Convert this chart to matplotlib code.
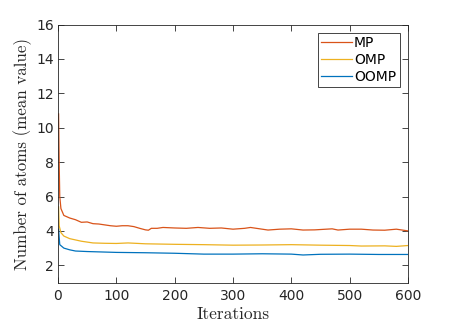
import matplotlib
matplotlib.use("Agg")
import matplotlib.pyplot as plt

# values
mp_x = [1, 2, 3, 5, 10, 20, 30, 40, 50, 60, 70, 80, 90, 100, 110, 120, 130,
        140, 150, 155, 160, 170, 180, 200, 220, 240, 260, 280, 300, 320, 330,
        340, 360, 380, 400, 420, 440, 460, 470, 480, 500, 520, 540, 560, 580,
        590, 600]
mp_y = [10.8, 8.0, 6.0, 5.3, 4.9, 4.75, 4.65, 4.5, 4.52, 4.42, 4.4, 4.35,
        4.3, 4.27, 4.3, 4.3, 4.25, 4.15, 4.06, 4.04, 4.15, 4.15, 4.2, 4.17,
        4.15, 4.2, 4.15, 4.17, 4.1, 4.15, 4.2, 4.15, 4.05, 4.1, 4.12, 4.05,
        4.06, 4.1, 4.12, 4.05, 4.1, 4.1, 4.05, 4.04, 4.1, 4.05, 4.0]

omp_x = [1, 2, 5, 10, 20, 40, 60, 80, 100, 120, 150, 200, 250, 300, 350,
         400, 450, 500, 520, 560, 580, 600]
omp_y = [5.4, 4.3, 3.9, 3.7, 3.55, 3.4, 3.3, 3.28, 3.27, 3.3, 3.25, 3.22,
         3.2, 3.17, 3.18, 3.2, 3.17, 3.15, 3.12, 3.13, 3.1, 3.15]

oomp_x = [1, 3, 10, 20, 30, 50, 100, 150, 200, 250, 300, 350, 400, 420,
          450, 500, 550, 600]
oomp_y = [4.1, 3.2, 3.0, 2.9, 2.83, 2.8, 2.75, 2.73, 2.7, 2.65, 2.65, 2.67,
          2.65, 2.6, 2.64, 2.65, 2.63, 2.63]

x_ticks = [0, 100, 200, 300, 400, 500, 600]
y_ticks = [2, 4, 6, 8, 10, 12, 14, 16]

GREY = "#262626"
plt.rcParams["font.family"] = ["DejaVu Sans"]
plt.rcParams["axes.edgecolor"] = GREY

fig = plt.figure(figsize=(4.52, 3.27), dpi=100)
ax = fig.add_axes([58 / 452, 1 - 282.5 / 327, 350 / 452, 258 / 327])

ax.plot(mp_x, mp_y, color="#D95319", lw=0.9, label="MP")
ax.plot(omp_x, omp_y, color="#EDB120", lw=0.9, label="OMP")
ax.plot(oomp_x, oomp_y, color="#0072BD", lw=0.9, label="OOMP")

ax.set_xlim(0, 600)
ax.set_ylim(1, 16)
ax.set_xticks(x_ticks)
ax.set_yticks(y_ticks)
ax.tick_params(direction="in", top=True, right=True, length=4, width=0.6,
               labelsize=10, colors=GREY, pad=3)
ax.tick_params(axis="x", pad=5)
for s in ax.spines.values():
    s.set_linewidth(0.6)

ax.set_xlabel("Iterations", family="cmr10", fontsize=12.5, color=GREY,
              labelpad=2)
ax.set_ylabel("Number of atoms (mean value)", family="cmr10", fontsize=12.2,
              color=GREY, labelpad=3)

leg = ax.legend(loc="upper right", fontsize=10, fancybox=False, framealpha=1,
                edgecolor=GREY, handlelength=2.2, handletextpad=0.15,
                labelspacing=0.2, borderpad=0.25, borderaxespad=0.6)
leg.get_frame().set_linewidth(0.6)

fig.savefig("out.png", dpi=100)
